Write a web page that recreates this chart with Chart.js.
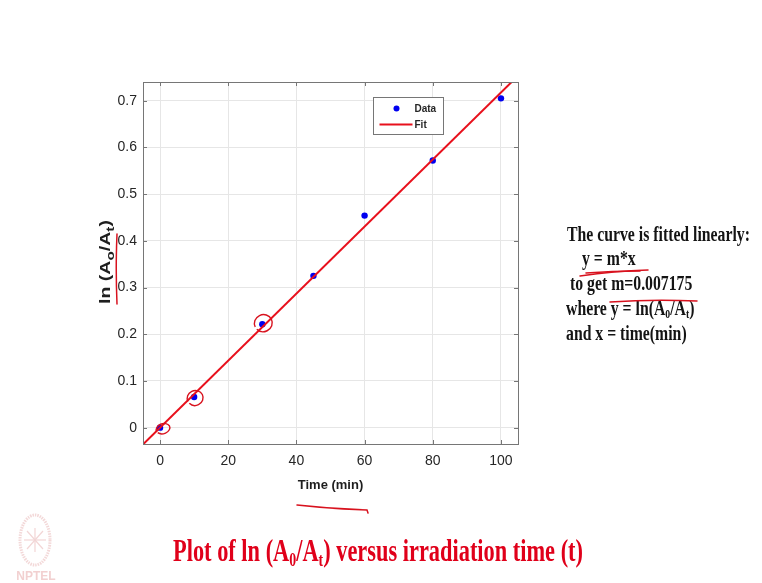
<!DOCTYPE html>
<html>
<head>
<meta charset="utf-8">
<script src="https://cdn.jsdelivr.net/npm/chart.js@4/dist/chart.umd.min.js"></script>
<style>
  html, body { margin: 0; padding: 0; background: #fff; }
  #wrap { position: relative; width: 762px; height: 583px; overflow: hidden; }
  #c { position: absolute; left: 0; top: 0; }
  .serif { position: absolute; white-space: nowrap; font-family: "Liberation Serif", "Times New Roman", serif;
           font-weight: bold; transform-origin: 0 0; line-height: 1; }
  .note { font-size: 20px; height: 20px; color: #141414; }
  .caption { font-size: 31px; height: 31px; color: #e0001a; }
  .sub { font-size: 0.62em; position: relative; top: 0.28em; }
  #ink { position: absolute; left: 0; top: 0; pointer-events: none; }
</style>
</head>
<body>
<div id="wrap">
  <canvas id="c" width="762" height="583"></canvas>

  <div class="serif note" id="n1" style="left:567px; top:224px;">The curve is fitted linearly:</div>
  <div class="serif note" id="n2" style="left:582px; top:248px;">y = m*x</div>
  <div class="serif note" id="n3" style="left:570px; top:273px;">to get m=0.007175</div>
  <div class="serif note" id="n4" style="left:566px; top:298px;">where y = ln(A<span class="sub">0</span>/A<span class="sub">t</span>)</div>
  <div class="serif note" id="n5" style="left:566px; top:323px;">and x = time(min)</div>

  <div class="serif caption" id="cap" style="left:173px; top:535px;">Plot of ln (A<span class="sub">0</span>/A<span class="sub">t</span>) versus irradiation time (t)</div>

  <svg id="ink" width="762" height="583" viewBox="0 0 762 583">
    <!-- institute emblem, faded -->
    <g opacity="0.55">
      <ellipse cx="35" cy="540" rx="15" ry="25" fill="none" stroke="#e9b9b9" stroke-width="3" stroke-dasharray="1.5 1"/>
      <g stroke="#e7b3b3" stroke-width="1.2">
        <line x1="35" y1="528" x2="35" y2="552"/>
        <line x1="24" y1="540" x2="46" y2="540"/>
        <line x1="27" y1="531" x2="43" y2="549"/>
        <line x1="43" y1="531" x2="27" y2="549"/>
      </g>
      <text x="36" y="580" text-anchor="middle" font-family="Liberation Sans, Arial, sans-serif"
            font-weight="bold" font-size="12" fill="#e7a9a9">NPTEL</text>
    </g>
    <!-- pen strokes over the slide -->
    <g fill="none" stroke="#d8121e" stroke-width="1.5" stroke-linecap="round">
      <path d="M117 234 Q115.5 268 117 304"/>
      <path d="M297 505 Q332 509 367 510 L368 513"/>
      <path d="M580 276 Q614 271 648 270"/>
      <path d="M586 273 Q612 271 640 271"/>
      <path d="M610 302 Q652 299 697 301"/>
    </g>
  </svg>
</div>

<script>
// Measured decay: ln(A0/At) against irradiation time
const timeMin  = [0, 10, 30, 45, 60, 80, 100];
const lnRatio  = [0, 0.0656, 0.2216, 0.325, 0.454, 0.572, 0.705];

// Linear fit through the origin, y = m*x
const slope    = 0.007175;
const fitRange = [-5, 105];

// Axis ticks
const xTicks = [0, 20, 40, 60, 80, 100];
const yTicks = [0, 0.1, 0.2, 0.3, 0.4, 0.5, 0.6, 0.7];

// Y-axis label pieces: [text, isSubscript]
const yLabelRuns = [['ln (A', false], ['o', true], ['/A', false], ['t', true], [')', false]];

// Points circled by hand during the lecture
const circledTimes = [0, 10, 30];

const SANS = '"Liberation Sans", Arial, Helvetica, sans-serif';
const AXIS_INK = '#262626';
const FRAME = '#767676';

// Axes box with inward tick marks on all four sides
const framePlugin = {
  id: 'frame',
  afterDatasetsDraw(chart) {
    const { ctx, chartArea: a, scales } = chart;
    ctx.save();
    ctx.strokeStyle = FRAME;
    ctx.lineWidth = 1;
    ctx.strokeRect(Math.round(a.left) + 0.5, Math.round(a.top) + 0.5,
                   Math.round(a.right - a.left), Math.round(a.bottom - a.top));
    const len = 4;
    ctx.beginPath();
    scales.x.ticks.forEach(t => {
      const px = Math.round(scales.x.getPixelForValue(t.value)) + 0.5;
      ctx.moveTo(px, a.bottom); ctx.lineTo(px, a.bottom - len);
      ctx.moveTo(px, a.top);    ctx.lineTo(px, a.top + len);
    });
    scales.y.ticks.forEach(t => {
      const py = Math.round(scales.y.getPixelForValue(t.value)) + 0.5;
      ctx.moveTo(a.left, py);  ctx.lineTo(a.left + len, py);
      ctx.moveTo(a.right, py); ctx.lineTo(a.right - len, py);
    });
    ctx.stroke();
    ctx.restore();
  }
};

// Rotated y-axis label with true subscripts
const yLabelPlugin = {
  id: 'yLabel',
  afterDraw(chart) {
    const { ctx, chartArea: a } = chart;
    const mainFont = 'bold 14px ' + SANS, subFont = 'bold 11px ' + SANS;
    ctx.save();
    let natural = 0;
    yLabelRuns.forEach(([s, sub]) => { ctx.font = sub ? subFont : mainFont; natural += ctx.measureText(s).width; });
    const target = 84;
    const sx = target / natural;
    ctx.translate(a.left - 33.5, (a.top + a.bottom) / 2 - 1);
    ctx.rotate(-Math.PI / 2);
    ctx.scale(sx, 1);
    ctx.fillStyle = '#1e1e1e';
    ctx.textBaseline = 'alphabetic';
    let x = -natural / 2;
    yLabelRuns.forEach(([s, sub]) => {
      ctx.font = sub ? subFont : mainFont;
      ctx.fillText(s, x, sub ? 4 : 0);
      x += ctx.measureText(s).width;
    });
    ctx.restore();
  }
};

// Boxed legend inside the upper right of the axes
const boxLegendPlugin = {
  id: 'boxLegend',
  afterDraw(chart) {
    const { ctx, chartArea: a } = chart;
    const ds = chart.data.datasets;
    const bx = Math.round(a.right - 145) + 0.5, by = Math.round(a.top + 15) + 0.5;
    const bw = 70, bh = 37;
    ctx.save();
    ctx.fillStyle = '#ffffff';
    ctx.fillRect(bx, by, bw, bh);
    ctx.strokeStyle = FRAME;
    ctx.lineWidth = 1;
    ctx.strokeRect(bx, by, bw, bh);
    ctx.font = 'bold 10px ' + SANS;
    ctx.textBaseline = 'middle';
    const y1 = by + 11, y2 = by + 27;
    ctx.beginPath();
    ctx.fillStyle = ds[0].backgroundColor;
    ctx.arc(bx + 23, y1, 3, 0, Math.PI * 2);
    ctx.fill();
    ctx.strokeStyle = ds[1].borderColor;
    ctx.lineWidth = 2;
    ctx.beginPath();
    ctx.moveTo(bx + 6, y2); ctx.lineTo(bx + 39, y2);
    ctx.stroke();
    ctx.fillStyle = AXIS_INK;
    ctx.fillText(ds[0].label, bx + 41, y1 + 0.5);
    ctx.fillText(ds[1].label, bx + 41, y2 + 0.5);
    ctx.restore();
  }
};

// Hand-drawn loops around selected points
const penPlugin = {
  id: 'pen',
  afterDraw(chart) {
    const { ctx, scales } = chart;
    ctx.save();
    ctx.strokeStyle = '#d8121e';
    ctx.lineWidth = 1.4;
    const shapes = [[3, 1, 7, 5], [1, 1, 8, 7.5], [1, -1, 9, 8.5]];
    circledTimes.forEach((t, k) => {
      const i = timeMin.indexOf(t);
      const px = scales.x.getPixelForValue(timeMin[i]);
      const py = scales.y.getPixelForValue(lnRatio[i]);
      const [dx, dy, rx, ry] = shapes[k];
      ctx.beginPath();
      ctx.ellipse(px + dx, py + dy, rx, ry, -0.3, Math.PI * 0.95, Math.PI * 2.85);
      ctx.stroke();
    });
    ctx.restore();
  }
};

const ctx = document.getElementById('c').getContext('2d');
new Chart(ctx, {
  type: 'scatter',
  data: {
    datasets: [
      {
        label: 'Data',
        data: timeMin.map((t, i) => ({ x: t, y: lnRatio[i] })),
        backgroundColor: '#0000f0',
        borderColor: '#0000f0',
        pointRadius: 3.2,
        pointBorderWidth: 0,
        showLine: false,
        order: 2
      },
      {
        label: 'Fit',
        type: 'line',
        data: fitRange.map(x => ({ x: x, y: slope * x })),
        borderColor: '#e8101c',
        borderWidth: 2,
        pointRadius: 0,
        fill: false,
        tension: 0,
        clip: 0,
        order: 1
      }
    ]
  },
  options: {
    responsive: false,
    animation: false,
    devicePixelRatio: 1,
    layout: { padding: { left: 93, right: 244, top: 82, bottom: 89 } },
    plugins: { legend: { display: false }, tooltip: { enabled: false } },
    scales: {
      x: {
        type: 'linear',
        min: -5, max: 105,
        afterBuildTicks: s => { s.ticks = xTicks.map(v => ({ value: v })); },
        afterFit: s => { s.height = 50; },
        grid: { color: '#e6e6e6', drawTicks: false },
        border: { display: false },
        ticks: { padding: 9, color: AXIS_INK, font: { family: SANS, size: 14 } },
        title: {
          display: true, text: 'Time (min)', color: '#1e1e1e',
          font: { family: SANS, size: 13, weight: 'bold' },
          padding: { top: 0, bottom: 1 }
        }
      },
      y: {
        type: 'linear',
        min: -0.035, max: 0.74,
        afterBuildTicks: s => { s.ticks = yTicks.map(v => ({ value: v })); },
        afterFit: s => { s.width = 50; },
        grid: { color: '#e6e6e6', drawTicks: false },
        border: { display: false },
        ticks: { padding: 6, color: AXIS_INK, font: { family: SANS, size: 14 },
                 callback: v => String(v) },
        title: { display: false }
      }
    }
  },
  plugins: [framePlugin, yLabelPlugin, boxLegendPlugin, penPlugin]
});

// Slide text is set in a condensed bold serif: squeeze each block to its width
function squeeze(el, width) {
  const w = el.getBoundingClientRect().width;
  const k = width / w;
  el.style.transform = 'scaleX(' + k + ')';
  return k;
}
const k = squeeze(document.getElementById('n1'), 183);
['n2', 'n3', 'n4', 'n5'].forEach(id => {
  document.getElementById(id).style.transform = 'scaleX(' + k + ')';
});
squeeze(document.getElementById('cap'), 410);
</script>
</body>
</html>
